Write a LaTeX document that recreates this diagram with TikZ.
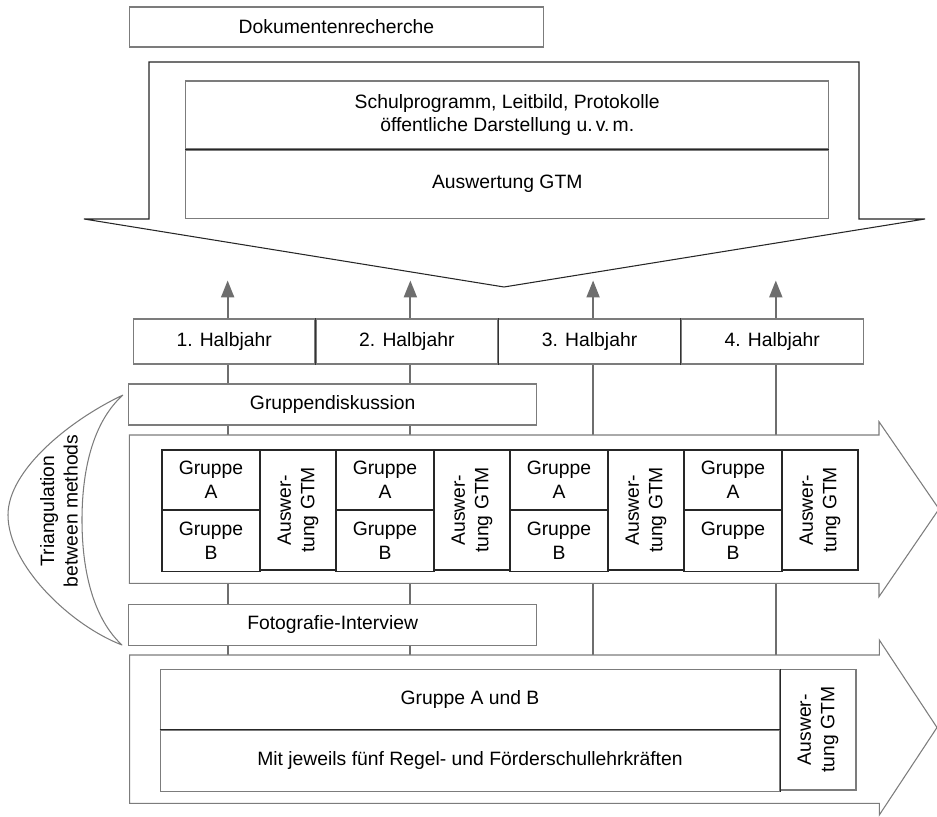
\documentclass[tikz,border=0pt]{standalone}
\usepackage{fontspec}
\setmainfont{Liberation Sans}
\usetikzlibrary{arrows.meta,calc,positioning,backgrounds}
\definecolor{rahmen}{HTML}{7C7C7C}
\definecolor{linie}{HTML}{6E6E6E}
\begin{document}
\begin{tikzpicture}[x=0.02cm, y=-0.02cm, line width=0.6pt,
    every node/.style={font=\fontsize{11}{13.4}\selectfont, inner sep=0pt, align=center},
    kasten/.style={rectangle, draw=rahmen, fill=white},
    zelle/.style={rectangle, draw=black!85, fill=white},
    pfeil/.style={draw=rahmen, fill=white, line join=miter},
    zeit/.style={draw=linie, line width=1.2pt}]
\useasboundingbox (0,0) rectangle (937,817);

    \node [kasten, minimum width=8.3cm, minimum height=0.8cm] (dok) at (336.5,27) {Dokumentenrecherche};

    \draw [draw=black!85, fill=white, line join=miter] (149,219) -- (149,62) -- (859,62) -- (859,219)
        -- (925,219) -- (504,287) -- (84,219) -- cycle;
    \node [kasten, minimum width=12.87cm, minimum height=1.36cm] (quellen) at (507.25,115)
        {Schulprogramm, Leitbild, Protokolle\\ öffentliche Darstellung u.\,v.\,m.};
    \node [kasten, minimum width=12.87cm, minimum height=1.36cm, below=0pt of quellen] (auswTop) {Auswertung GTM};
    \draw [black!85] (quellen.south west) -- (quellen.south east);

    \node [kasten, minimum width=3.634cm, minimum height=0.9cm] (hj1) at (224.15,341.5) {1. Halbjahr};
    \node [kasten, minimum width=3.634cm, minimum height=0.9cm, right=0pt of hj1] (hj2) {2. Halbjahr};
    \node [kasten, minimum width=3.634cm, minimum height=0.9cm, right=0pt of hj2] (hj3) {3. Halbjahr};
    \node [kasten, minimum width=3.634cm, minimum height=0.9cm, right=0pt of hj3] (hj4) {4. Halbjahr};
    \foreach \i in {1,2,3}
        \draw [black!80] (hj\i.north east) -- (hj\i.south east);

    \node [kasten, minimum width=8.17cm, minimum height=0.82cm] (gd) at (332.7,404.5) {Gruppendiskussion};

    \draw [pfeil] (129.3,435) -- (879,435) -- (879,421.7) -- (939,509) -- (879,596.7)
        -- (879,583.3) -- (129.3,583.3) -- cycle;
    \foreach \i in {0,...,3} {
        \node [zelle, minimum width=1.96cm, minimum height=1.186cm] (gA\i) at (211+174*\i,479.65) {Gruppe\\ A};
        \node [zelle, minimum width=1.96cm, minimum height=1.214cm, below=0pt of gA\i] (gB\i) {Gruppe\\ B};
        \node [zelle, rotate=90, minimum width=2.4cm, minimum height=1.52cm] (au\i) at (298+174*\i,510) {Auswer-\\ tung GTM};
    }

    \node [kasten, minimum width=8.17cm, minimum height=0.83cm] (fi) at (332.7,625) {Fotografie-Interview};

    \draw [pfeil] (129.7,655) -- (879.3,655) -- (879.3,640) -- (937,727.5) -- (879.3,815)
        -- (879.3,803.3) -- (129.7,803.3) -- cycle;
    \coordinate (bot) at (129.7,655);
    \node [kasten, minimum width=12.4cm, minimum height=1.2cm] (gab) at (470,699.3) {Gruppe A und B};
    \node [kasten, minimum width=12.4cm, minimum height=1.214cm, below=0pt of gab] (lehr)
        {Mit jeweils fünf Regel- und Förderschullehrkräften};
    \node [kasten, rotate=90, minimum width=2.414cm, minimum height=1.52cm] (auBot) at (818,729.65) {Auswer-\\ tung GTM};
    \draw [black!85] (gab.south west) -- (gab.south east);
    \draw [black!85] (gab.north east) -- (lehr.south east);

    \draw [rahmen, line join=round] (123,395) .. controls (70,420) and (8,470) .. (8,515)
        .. controls (8,565) and (70,625) .. (122,645)
        .. controls (95,620) and (82,575) .. (82,520)
        .. controls (82,465) and (95,420) .. (123,395);
    \node [rotate=90] (tri) at (59,511) {Triangulation\\ between methods};

    \foreach \i in {1,...,4} {
        \coordinate (oben\i) at ($(hj\i.north)+(3.5,0)$);
        \coordinate (unten\i) at ($(hj\i.south)+(3.5,0)$);
        \coordinate (spitze\i) at ($(oben\i)+(0,-38)$);
        \draw [zeit, -{Triangle[length=0.34cm, width=0.26cm]}] (oben\i) -- (spitze\i);
    }
    \begin{scope}[on background layer]
        \foreach \i in {1,...,4}
            \draw [zeit] (unten\i) -- (unten\i |- bot);
    \end{scope}
\end{tikzpicture}
\end{document}
